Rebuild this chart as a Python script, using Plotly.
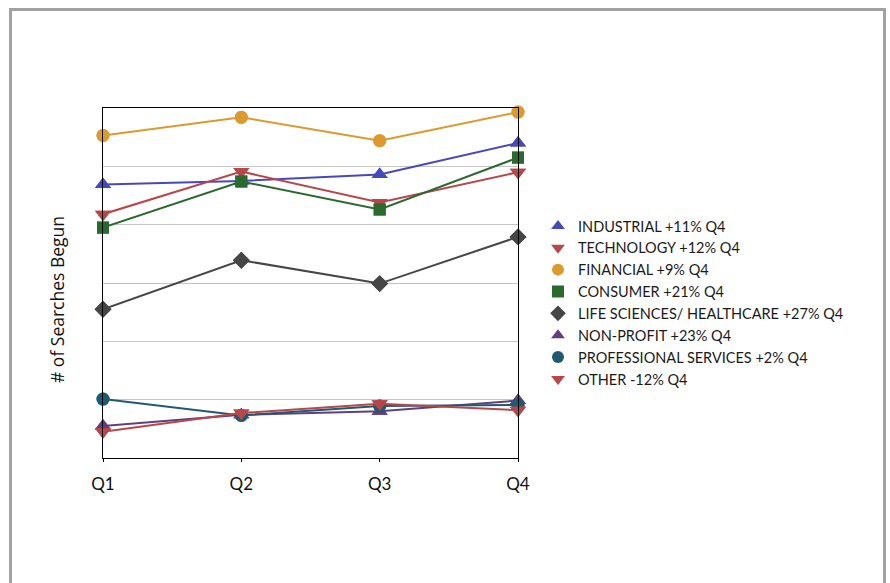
import plotly.graph_objects as go

# Quarterly search starts by sector (relative units on the vertical axis)
quarters = ["Q1", "Q2", "Q3", "Q4"]

industrial = [4.69, 4.75, 4.86, 5.40]
technology = [4.18, 4.91, 4.38, 4.90]
financial = [5.53, 5.84, 5.44, 5.93]
consumer = [3.95, 4.74, 4.26, 5.15]
life_sciences = [2.55, 3.39, 2.99, 3.79]
non_profit = [0.55, 0.74, 0.80, 0.985]
professional = [1.01, 0.73, 0.89, 0.91]
other = [0.45, 0.77, 0.93, 0.82]

series = [
    ("INDUSTRIAL +11% Q4", industrial, "#4649bd", "triangle-up", 14),
    ("TECHNOLOGY +12% Q4", technology, "#b8474b", "triangle-down", 14),
    ("FINANCIAL +9% Q4", financial, "#dc9a2e", "circle", 13),
    ("CONSUMER +21% Q4", consumer, "#2b6a2f", "square", 12),
    ("LIFE SCIENCES/ HEALTHCARE +27% Q4", life_sciences, "#464646", "diamond", 13),
    ("NON-PROFIT +23% Q4", non_profit, "#5e3f80", "triangle-up", 14),
    ("PROFESSIONAL SERVICES +2% Q4", professional, "#1f5a72", "circle", 13),
    ("OTHER -12% Q4", other, "#b8474b", "triangle-down", 14),
]

x_pos = list(range(len(quarters)))

fig = go.Figure()
for name, values, color, symbol, size in series:
    # connected line with markers
    fig.add_trace(go.Scatter(
        x=x_pos, y=values, name=name, mode="lines+markers",
        showlegend=False,
        line=dict(color=color, width=2),
        marker=dict(symbol=symbol, size=size, color=color),
        cliponaxis=False,
    ))
    # same points again, carrying the marker-only legend entry
    fig.add_trace(go.Scatter(
        x=x_pos, y=values, name=name, mode="markers",
        showlegend=True,
        marker=dict(symbol=symbol, size=size, color=color),
        cliponaxis=False, hoverinfo="skip",
    ))

W, H = 890, 583
L, R, T, B = 103, 372, 108, 125
pw, ph = W - L - R, H - T - B


def px_to_paper_x(px):
    return (px - L) / pw


def px_to_paper_y(py):
    return (H - B - py) / ph


# outer gray frame around the whole chart
fig.add_shape(
    type="rect", xref="paper", yref="paper",
    x0=px_to_paper_x(10.5), x1=px_to_paper_x(884.5),
    y0=px_to_paper_y(640), y1=px_to_paper_y(9.5),
    line=dict(color="#a2a2a2", width=3), layer="below",
)

# vertical axis caption
fig.add_annotation(
    text="# of Searches Begun", textangle=-90, showarrow=False,
    xref="paper", yref="paper",
    x=px_to_paper_x(57), y=px_to_paper_y(300),
    xanchor="center", yanchor="middle",
    font=dict(family="Open Sans, sans-serif", size=17.5, color="#111111"),
)

fig.update_layout(
    width=W, height=H,
    margin=dict(l=L, r=R, t=T, b=B),
    paper_bgcolor="white", plot_bgcolor="white",
    showlegend=True,
    legend=dict(
        x=px_to_paper_x(538), xanchor="left",
        y=px_to_paper_y(210), yanchor="top",
        font=dict(family="Lato, sans-serif", size=14.5, color="#1a1a1a"),
        bgcolor="rgba(0,0,0,0)", borderwidth=0,
        itemsizing="constant", tracegroupgap=0,
        itemclick=False, itemdoubleclick=False,
    ),
    xaxis=dict(
        range=[0, 3], tickmode="array", tickvals=x_pos, ticktext=quarters,
        showgrid=False, zeroline=False,
        showline=True, linecolor="black", linewidth=1, mirror=True,
        ticks="outside", ticklen=3, tickcolor="black",
        ticklabelstandoff=8,
        tickfont=dict(family="Lato, sans-serif", size=17, color="#111111"),
    ),
    yaxis=dict(
        range=[0, 6], dtick=1, showticklabels=False,
        showgrid=True, gridcolor="#c6c6c6", gridwidth=1,
        zeroline=False,
        showline=True, linecolor="black", linewidth=1, mirror=True,
        ticks="",
    ),
)

fig.write_html("out.html")
